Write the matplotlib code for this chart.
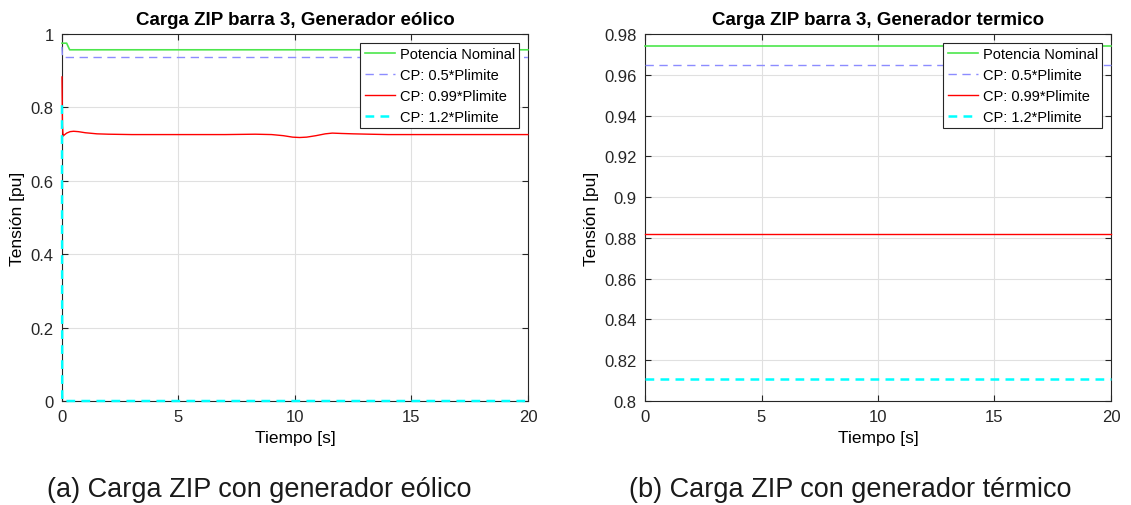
import numpy as np
import matplotlib.pyplot as plt
from matplotlib.ticker import FormatStrFormatter

plt.rcParams['font.family'] = ['Liberation Sans', 'DejaVu Sans']

labels = ['Potencia Nominal', 'CP: 0.5*Plimite', 'CP: 0.99*Plimite', 'CP: 1.2*Plimite']

# generador eolico
eo_nom_t = [0, 0.2, 0.33, 20]
eo_nom_v = [0.975, 0.975, 0.957, 0.957]
eo_05_t = [0, 0.02, 20]
eo_05_v = [0.965, 0.936, 0.936]
eo_099_t = [0, 0.02, 0.05, 0.1, 0.2, 0.35, 0.5, 0.7, 1.0, 1.5, 2, 3, 5, 7, 8.3,
            9.0, 9.5, 9.9, 10.2, 10.5, 10.9, 11.3, 11.6, 12.0, 12.5, 13.2, 14, 16, 20]
eo_099_v = [0.883, 0.75, 0.722, 0.725, 0.73, 0.734, 0.735, 0.734, 0.731, 0.728,
            0.727, 0.726, 0.726, 0.726, 0.727, 0.726, 0.723, 0.719, 0.718, 0.719,
            0.723, 0.728, 0.730, 0.729, 0.728, 0.727, 0.726, 0.726, 0.726]
eo_12_t = [0, 0.01, 20]
eo_12_v = [0.806, 0, 0]

# generador termico
te_t = [0, 20]
te_nom = [0.974, 0.974]
te_05 = [0.965, 0.965]
te_099 = [0.882, 0.882]
te_12 = [0.811, 0.811]

c_nom = '#4ce64c'
c_05 = '#8c8cff'
c_099 = '#ff0000'
c_12 = '#00ffff'


def style_axes(ax, title):
    ax.set_title(title, fontsize=13.5, fontweight='bold', pad=7)
    ax.set_xlabel('Tiempo [s]', fontsize=12.5, labelpad=4)
    ax.set_ylabel('Tensión [pu]', fontsize=12.5, labelpad=4)
    ax.set_xlim(0, 20)
    ax.set_xticks([0, 5, 10, 15, 20])
    ax.grid(True, color='#e0e0e0', linewidth=0.8)
    ax.set_axisbelow(True)
    ax.tick_params(direction='in', top=True, right=True, labelsize=12,
                   colors='#262626', length=4, pad=6)
    for s in ax.spines.values():
        s.set_color('#262626')
        s.set_linewidth(0.8)
    ax.yaxis.set_major_formatter(FormatStrFormatter('%g'))
    leg = ax.legend(loc='upper right', fontsize=10.5, fancybox=False,
                    framealpha=1, edgecolor='#262626', borderpad=0.3,
                    handlelength=2.1, handletextpad=0.3, labelspacing=0.47,
                    borderaxespad=0.6)
    leg.get_frame().set_linewidth(0.8)


def draw(ax, series):
    styles = [dict(color=c_nom, lw=1.2),
              dict(color=c_05, lw=1.0, ls=(0, (6, 4))),
              dict(color=c_099, lw=1.0),
              dict(color=c_12, lw=1.8, ls=(0, (3.5, 2.5)))]
    for (t, v), lab, st in zip(series, labels, styles):
        ax.plot(t, v, label=lab, zorder=3, clip_on=False, **st)


fig = plt.figure(figsize=(11.31, 5.06), dpi=100)
ax1 = fig.add_axes([0.0548, 0.2055, 0.412, 0.7253])
ax2 = fig.add_axes([0.5703, 0.2055, 0.412, 0.7253])

draw(ax1, [(eo_nom_t, eo_nom_v), (eo_05_t, eo_05_v),
           (eo_099_t, eo_099_v), (eo_12_t, eo_12_v)])
ax1.set_ylim(0, 1)
ax1.set_yticks([0, 0.2, 0.4, 0.6, 0.8, 1])
style_axes(ax1, 'Carga ZIP barra 3, Generador eólico')

draw(ax2, [(te_t, te_nom), (te_t, te_05), (te_t, te_099), (te_t, te_12)])
ax2.set_ylim(0.8, 0.98)
ax2.set_yticks(np.arange(0.80, 0.981, 0.02))
style_axes(ax2, 'Carga ZIP barra 3, Generador termico')

cap_y = 1 - 490 / 506
fig.text(0.229, cap_y, '(a) Carga ZIP con generador eólico', fontsize=19.5,
         ha='center', va='center', color='#1a1a1a')
fig.text(0.752, cap_y, '(b) Carga ZIP con generador térmico', fontsize=19.5,
         ha='center', va='center', color='#1a1a1a')

fig.savefig('out.png', dpi=100)
